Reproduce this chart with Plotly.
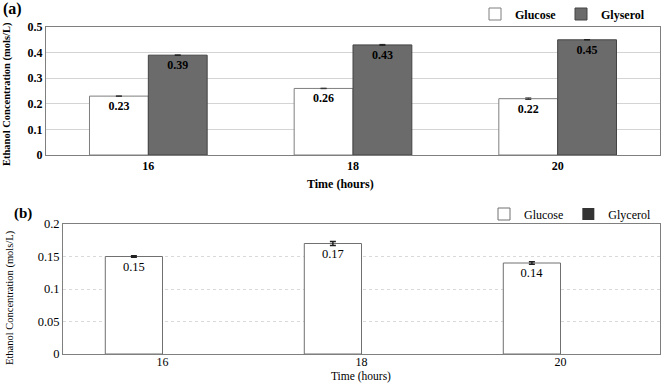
import plotly.graph_objects as go

hours = ["16", "18", "20"]

a_glucose = [0.23, 0.26, 0.22]
a_glucose_err = [0.001, 0.001, 0.003]
a_glycerol = [0.39, 0.43, 0.45]
a_glycerol_err = [0.001, 0.002, 0.001]

b_glucose = [0.15, 0.17, 0.14]
b_glucose_err = [0.001, 0.003, 0.002]
b_glycerol = [0, 0, 0]

a_yticks = [0, 0.1, 0.2, 0.3, 0.4, 0.5]
a_yticktext = ["0", "0.1", "0.2", "0.3", "0.4", "0.5"]
b_yticks = [0, 0.05, 0.1, 0.15, 0.2]
b_yticktext = ["0", "0.05", "0.1", "0.15", "0.2"]

SERIF = "Liberation Serif, DejaVu Serif, serif"
GLY_FILL = "#6b6b6b"
EDGE = "#7f7f7f"
W, H = 661, 384


def px_x(p):
    return p / W


def px_y(p):
    return 1 - p / H


fig = go.Figure()

fig.add_trace(go.Bar(
    x=hours, y=a_glucose, name="Glucose", xaxis="x", yaxis="y",
    marker=dict(color="white", line=dict(color=EDGE, width=1)),
    error_y=dict(type="data", array=a_glucose_err, color="#333", thickness=1, width=3),
    text=[f"{v:.2f}" for v in a_glucose], textposition="inside", insidetextanchor="end",
    textfont=dict(family=SERIF, size=12, color="black", weight="bold"),
    legend="legend",
))
fig.add_trace(go.Bar(
    x=hours, y=a_glycerol, name="Glyserol", xaxis="x", yaxis="y",
    marker=dict(color=GLY_FILL, line=dict(color="#444", width=1)),
    error_y=dict(type="data", array=a_glycerol_err, color="#222", thickness=1, width=3),
    text=[f"{v:.2f}" for v in a_glycerol], textposition="inside", insidetextanchor="end",
    textfont=dict(family=SERIF, size=12, color="black", weight="bold"),
    legend="legend",
))
fig.add_trace(go.Bar(
    x=hours, y=b_glucose, name="Glucose", xaxis="x2", yaxis="y2",
    marker=dict(color="white", line=dict(color="#707070", width=1)),
    error_y=dict(type="data", array=b_glucose_err, color="#222", thickness=1.5, width=3),
    text=[f"{v:.2f}" for v in b_glucose], textposition="inside", insidetextanchor="end",
    textfont=dict(family=SERIF, size=12.5, color="black"),
    legend="legend2",
))
fig.add_trace(go.Bar(
    x=hours, y=b_glycerol, name="Glycerol", xaxis="x2", yaxis="y2",
    marker=dict(color="#333", line=dict(width=0)),
    legend="legend2",
))

axis_common = dict(showline=True, mirror=True, linecolor=EDGE, linewidth=1, ticks="")

fig.update_layout(
    width=W, height=H,
    margin=dict(l=0, r=0, t=0, b=0, autoexpand=False),
    paper_bgcolor="white", plot_bgcolor="white",
    barmode="group", bargap=0.425, bargroupgap=0,
    font=dict(family=SERIF, color="black"),
    xaxis=dict(domain=[px_x(46), px_x(660)], anchor="y", type="category", **axis_common,
               tickfont=dict(family=SERIF, size=12, weight="bold")),
    yaxis=dict(domain=[px_y(155), px_y(27)], anchor="x", range=[0, 0.5], tickvals=a_yticks,
               ticktext=a_yticktext, showgrid=True, gridcolor="#d4d4d4", zeroline=False,
               **axis_common, tickfont=dict(family=SERIF, size=12, weight="bold")),
    xaxis2=dict(domain=[px_x(63), px_x(660)], anchor="y2", type="category", **axis_common,
                tickfont=dict(family=SERIF, size=12), ticklabelstandoff=-3),
    yaxis2=dict(domain=[px_y(354), px_y(224)], anchor="x2", range=[0, 0.2], tickvals=b_yticks,
                ticktext=b_yticktext, showgrid=True, gridcolor="#d9d9d9", griddash="dot",
                zeroline=False, **axis_common, tickfont=dict(family=SERIF, size=12.5)),
    legend=dict(orientation="h", x=px_x(475), y=px_y(14), xanchor="left", yanchor="middle",
                font=dict(family=SERIF, size=12, weight="bold"), entrywidth=41,
                bgcolor="rgba(0,0,0,0)", itemclick=False),
    legend2=dict(orientation="h", x=px_x(484), y=px_y(214), xanchor="left", yanchor="middle",
                 font=dict(family=SERIF, size=12),
                 bgcolor="rgba(0,0,0,0)", itemclick=False),
    annotations=[
        dict(text="<b>(a)</b>", x=px_x(1), y=px_y(9), xref="paper", yref="paper",
             xanchor="left", yanchor="middle", showarrow=False, font=dict(size=16)),
        dict(text="<b>(b)</b>", x=px_x(12), y=px_y(213), xref="paper", yref="paper",
             xanchor="left", yanchor="middle", showarrow=False, font=dict(size=15)),
        dict(text="<b>Ethanol Concentration (mols/L)</b>", x=px_x(7), y=px_y(94),
             xref="paper", yref="paper", textangle=-90, xanchor="center", yanchor="middle",
             showarrow=False, font=dict(size=10.5)),
        dict(text="<b>Time (hours)</b>", x=px_x(340), y=px_y(184), xref="paper", yref="paper",
             xanchor="center", yanchor="middle", showarrow=False, font=dict(size=12)),
        dict(text="Ethanol Concentration (mols/L)", x=px_x(10), y=px_y(298),
             xref="paper", yref="paper", textangle=-90, xanchor="center", yanchor="middle",
             showarrow=False, font=dict(size=10.5)),
        dict(text="Time (hours)", x=px_x(361), y=px_y(384), xref="paper", yref="paper",
             xanchor="center", yanchor="bottom", showarrow=False, font=dict(size=11.5),
             borderpad=0),
    ],
)

fig.write_html("out.html", config={"displayModeBar": False},
               post_script="document.body.style.margin='0';")
